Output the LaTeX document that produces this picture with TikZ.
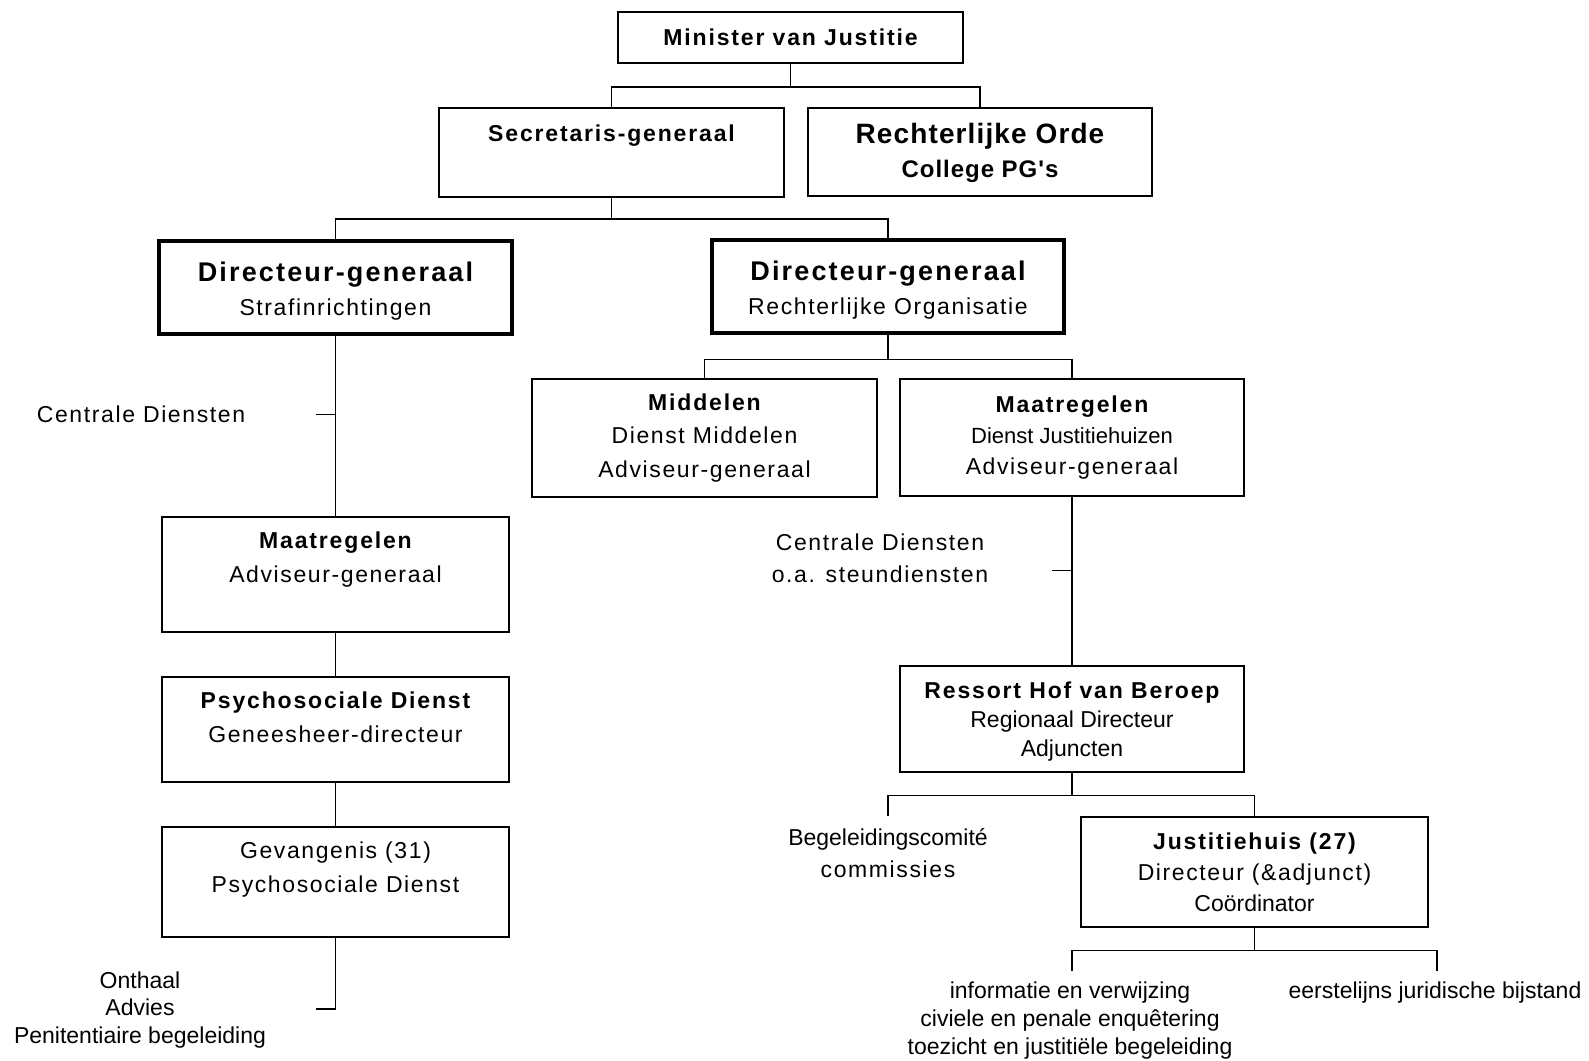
\documentclass[tikz,border=0pt]{standalone}
\usepackage{fontspec}
\setmainfont{Liberation Sans}
\newfontfamily\spf{Liberation Sans}[LetterSpace=7]
\newfontfamily\bsf{Liberation Sans}[LetterSpace=8]
\newfontfamily\bsfn{Liberation Sans}[LetterSpace=4]
\usetikzlibrary{calc}
\newcommand\txR{\fontsize{23}{34}\selectfont\spf}
\newcommand\txP{\fontsize{23}{28}\selectfont\rmfamily}
\newcommand\txB{\fontsize{23}{34}\selectfont\bsf\bfseries}
\newcommand\txL{\fontsize{27}{34}\selectfont\bsf\bfseries}
\tikzset{
  box/.style 2 args={draw, line width=1.6pt, minimum width=#1, minimum height=#2, inner sep=0pt, align=center},
  dgbox/.style 2 args={box={#1}{#2}, line width=4.5pt},
  lbl/.style={inner sep=0pt, align=center},
  conn/.style={line width=1.5pt},
}
\begin{document}
\begin{tikzpicture}[x=1pt,y=-1pt]
\useasboundingbox (0,0) rectangle (1589,1060);

% boxes
\node[box={345pt}{51pt}, font=\txB] (min) at (790.5,37.5) {Minister van Justitie};
\node[box={345pt}{89pt}, font=\txB] (sg) at (611.5,152.5) {Secretaris-generaal\\[5pt]\mbox{}};
\node[box={344pt}{88pt}, font=\fontsize{24}{34}\selectfont\bsfn\bfseries] (ro) at (980,152) {\mbox{}\\[-12pt]{\fontsize{28}{34}\selectfont\bsfn\bfseries Rechterlijke Orde}\\College PG's};
\node[dgbox={353pt}{93pt}, font=\fontsize{23}{34.5}\selectfont\spf] (dgl) at (335.5,287.5) {\mbox{}\\[-8pt]{\txL Directeur-generaal}\\Strafinrichtingen};
\node[dgbox={352pt}{93pt}, font=\fontsize{23}{34.5}\selectfont\spf] (dgr) at (888,286.5) {\mbox{}\\[-8pt]{\txL Directeur-generaal}\\Rechterlijke Organisatie};
\node[box={347pt}{115pt}, font=\txR] (mal) at (335.5,574.5) {{\txB Maatregelen}\\Adviseur-generaal\\\mbox{}};
\node[box={347pt}{105pt}, font=\txR] (psy) at (335.5,729.5) {{\txB Psychosociale Dienst}\\Geneesheer-directeur\\[-9pt]\mbox{}};
\node[box={347pt}{110pt}, font=\txR] (gev) at (335.5,882) {Gevangenis (31)\\Psychosociale Dienst\\[-4pt]\mbox{}};
\node[box={345pt}{118pt}, font=\fontsize{23}{33.5}\selectfont\spf] (mid) at (704.5,438) {{\txB Middelen}\\Dienst Middelen\\Adviseur-generaal};
\node[box={344pt}{117pt}, font=\fontsize{23}{31}\selectfont\spf] (mar) at (1072,437.5) {{\txB Maatregelen}\\{\fontsize{22}{31}\selectfont\rmfamily Dienst Justitiehuizen}\\Adviseur-generaal};
\node[box={344pt}{106pt}, font=\fontsize{23}{29}\selectfont\rmfamily] (res) at (1072,719) {\mbox{}\\[-6.5pt]{\txB Ressort Hof van Beroep}\\Regionaal Directeur\\Adjuncten};
\node[box={347pt}{110pt}, font=\fontsize{23}{31}\selectfont\spf] (jus) at (1254.5,872) {{\txB Justitiehuis (27)}\\Directeur (\&adjunct)\\{\rmfamily Coördinator}};

% free labels
\node[lbl, font=\txR] (cd1) at (141,414.5) {Centrale Diensten};
\node[lbl, font=\fontsize{23}{32.5}\selectfont\spf] (cd2) at (880,558.5) {Centrale Diensten\\o.a. steundiensten};
\node[lbl, font=\fontsize{23}{31.5}\selectfont\rmfamily] (beg) at (888,853) {Begeleidingscomité\\{\spf commissies}};
\node[lbl, font=\fontsize{23}{27.5}\selectfont\rmfamily] (ont) at (140,1010) {Onthaal\\Advies\\Penitentiaire begeleiding};
\node[lbl, font=\fontsize{23}{28}\selectfont\rmfamily] (inf) at (1070,1021) {informatie en verwijzing\\civiele en penale enquêtering\\toezicht en justitiële begeleiding};
\node[lbl, font=\txP] (eer) at (1435,993) {eerstelijns juridische bijstand};

% connectors
\draw[conn] (min.south) -- ++(0,23) coordinate (b1);
\draw[conn] (sg.north) |- (b1) -| (ro.north);
\draw[conn] (sg.south) -- ++(0,21) coordinate (b2);
\draw[conn] (dgl.north) |- (b2) -| (dgr.north);

\draw[conn] (dgl.south) -- (mal.north);
\coordinate (t1) at (dgl.south |- cd1);
\draw[conn] (t1) -- ++(-20,0);
\draw[conn] (mal.south) -- (psy.north);
\draw[conn] (psy.south) -- (gev.north);
\draw[conn] (gev.south) -- ++(0,71) -- ++(-20,0);

\draw[conn] (dgr.south) -- ++(0,24) coordinate (b3);
\draw[conn] (mid.north) |- (b3) -| (mar.north);
\draw[conn] (mar.south) -- (res.north);
\coordinate (t2) at (1072,570.5);
\draw[conn] (t2) -- ++(-20,0);

\draw[conn] (res.south) -- ++(0,22.5) coordinate (b4);
\coordinate (c4) at (888,816);
\draw[conn] (c4) |- (b4) -| (jus.north);

\draw[conn] (jus.south) -- ++(0,22.5) coordinate (b5);
\coordinate (e1) at (1072,971);
\coordinate (e2) at (1437,971);
\draw[conn] (e1) |- (b5) -| (e2);
\end{tikzpicture}
\end{document}
